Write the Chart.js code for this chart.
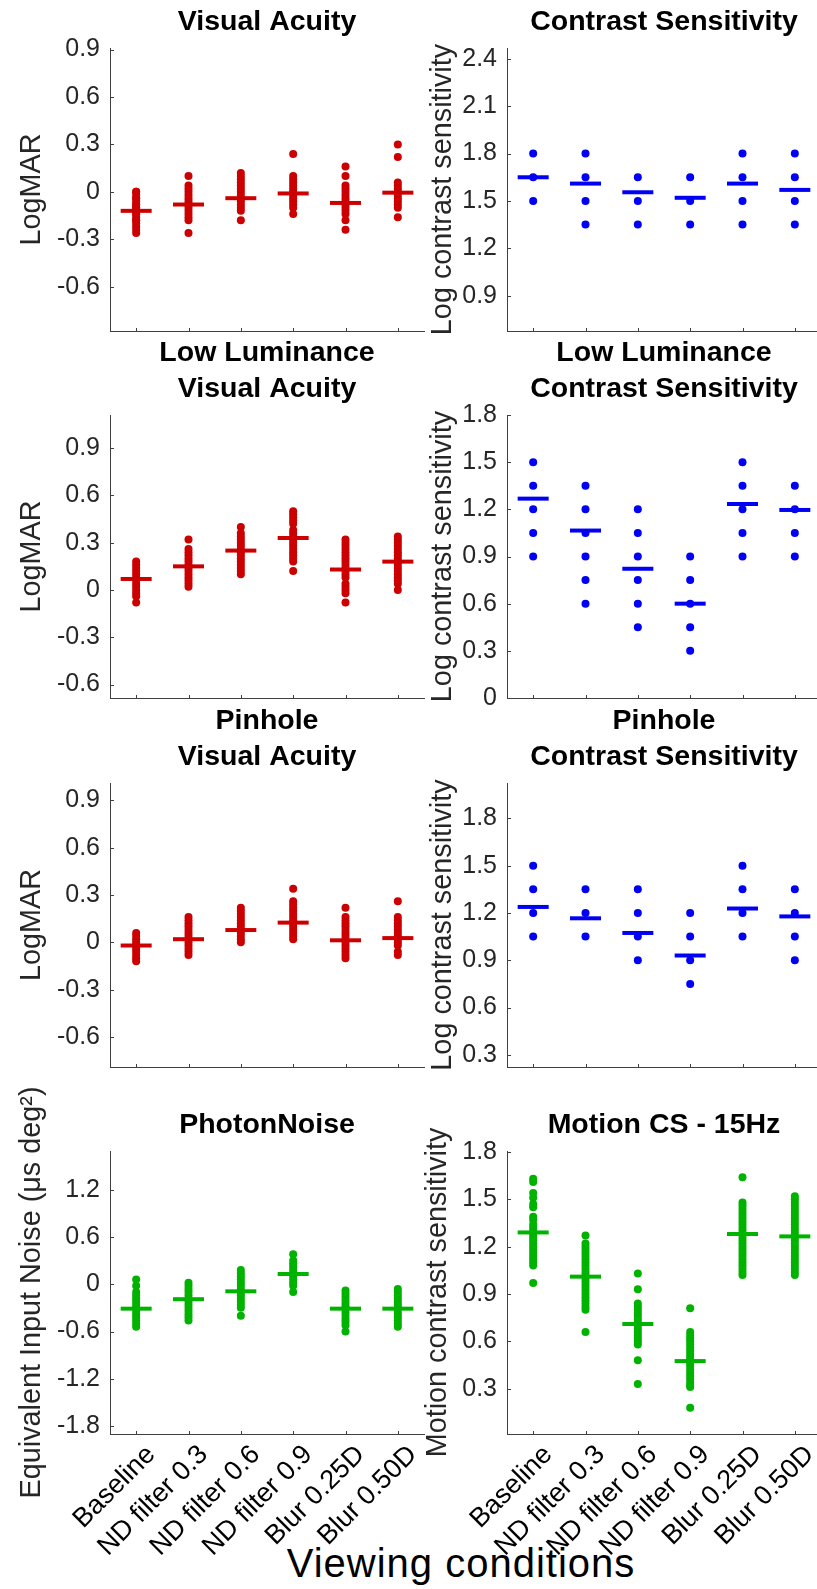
<!DOCTYPE html>
<html>
<head>
<meta charset="utf-8">
<script src="https://cdn.jsdelivr.net/npm/chart.js@4/dist/chart.umd.min.js"></script>
<style>
  html, body { margin: 0; padding: 0; background: #fff; }
  body { width: 817px; height: 1589px; position: relative; overflow: hidden; }
  canvas { position: absolute; }
  #xTitle {
    position: absolute; left: 0; width: 922px; top: 1543px;
    text-align: center; white-space: nowrap; color: #000;
    font: 40px 'Liberation Sans', Arial, sans-serif; line-height: 40px; letter-spacing: 1px;
  }
</style>
</head>
<body>
<div id="xTitle">Viewing conditions</div>
<script>
// viewing conditions on the x axis (positions 1..6)
const conditions = ['Baseline', 'ND filter 0.3', 'ND filter 0.6', 'ND filter 0.9', 'Blur 0.25D', 'Blur 0.50D'];
const xPositions = [1, 2, 3, 4, 5, 6];

// tick labels
const logmarTicks = [-0.6, -0.3, 0, 0.3, 0.6, 0.9];
const csTicks = [0.9, 1.2, 1.5, 1.8, 2.1, 2.4];
const llCsTicks = [0, 0.3, 0.6, 0.9, 1.2, 1.5, 1.8];
const phCsTicks = [0.3, 0.6, 0.9, 1.2, 1.5, 1.8];
const noiseTicks = [-1.8, -1.2, -0.6, 0, 0.6, 1.2];
const motionTicks = [0.3, 0.6, 0.9, 1.2, 1.5, 1.8];

// Visual Acuity (LogMAR), one list per condition
const vaPoints = [
  [0, 0, -0.02, -0.04, -0.04, -0.06, -0.08, -0.08, -0.1, -0.1, -0.12, -0.12, -0.14, -0.14, -0.16, -0.18, -0.18, -0.2, -0.22, -0.24, -0.26],
  [0.1, 0.04, 0.02, 0, -0.02, -0.04, -0.06, -0.08, -0.08, -0.1, -0.12, -0.14, -0.16, -0.18, -0.26],
  [0.12, 0.1, 0.08, 0.06, 0.04, 0.02, 0, -0.02, -0.04, -0.06, -0.08, -0.1, -0.12, -0.18],
  [0.24, 0.1, 0.08, 0.06, 0.04, 0.02, 0, -0.02, -0.04, -0.06, -0.08, -0.1, -0.14],
  [0.16, 0.1, 0.04, 0.02, 0, -0.02, -0.04, -0.06, -0.08, -0.1, -0.12, -0.14, -0.18, -0.24],
  [0.3, 0.22, 0.06, 0.04, 0.02, 0, -0.02, -0.04, -0.06, -0.08, -0.1, -0.16]
];
const vaMeans = [-0.12, -0.08, -0.04, -0.01, -0.07, -0.005];

// Contrast Sensitivity
const csPoints = [
  [1.8, 1.65, 1.5],
  [1.8, 1.65, 1.5, 1.35],
  [1.65, 1.5, 1.35],
  [1.65, 1.5, 1.35],
  [1.8, 1.65, 1.5, 1.35],
  [1.8, 1.65, 1.5, 1.35]
];
const csMeans = [1.65, 1.61, 1.555, 1.52, 1.61, 1.57];

// Low Luminance Visual Acuity
const llVaPoints = [
  [0.18, 0.16, 0.14, 0.12, 0.1, 0.08, 0.06, 0.04, 0.02, 0, -0.02, -0.04, -0.08],
  [0.32, 0.26, 0.24, 0.22, 0.2, 0.18, 0.16, 0.14, 0.12, 0.1, 0.08, 0.06, 0.04, 0.02],
  [0.4, 0.36, 0.34, 0.32, 0.3, 0.28, 0.26, 0.24, 0.22, 0.2, 0.18, 0.16, 0.14, 0.12, 0.1],
  [0.5, 0.48, 0.46, 0.44, 0.42, 0.38, 0.36, 0.34, 0.32, 0.3, 0.28, 0.26, 0.24, 0.22, 0.2, 0.18, 0.12],
  [0.32, 0.3, 0.28, 0.26, 0.24, 0.22, 0.2, 0.18, 0.16, 0.14, 0.12, 0.1, 0.08, 0.04, 0.02, 0, -0.02, -0.08],
  [0.34, 0.32, 0.3, 0.28, 0.26, 0.24, 0.22, 0.2, 0.18, 0.16, 0.14, 0.12, 0.1, 0.08, 0.06, 0.04, 0]
];
const llVaMeans = [0.07, 0.15, 0.25, 0.33, 0.13, 0.18];

// Low Luminance Contrast Sensitivity
const llCsPoints = [
  [1.5, 1.35, 1.2, 1.05, 0.9],
  [1.35, 1.2, 1.05, 0.9, 0.75, 0.6],
  [1.2, 1.05, 0.9, 0.75, 0.6, 0.45],
  [0.9, 0.75, 0.6, 0.45, 0.3],
  [1.5, 1.35, 1.2, 1.05, 0.9],
  [1.35, 1.2, 1.05, 0.9]
];
const llCsMeans = [1.268, 1.065, 0.822, 0.6, 1.234, 1.196];

// Pinhole Visual Acuity
const phVaPoints = [
  [0.06, 0.04, 0.02, 0, -0.02, -0.04, -0.06, -0.08, -0.1, -0.12],
  [0.16, 0.14, 0.12, 0.1, 0.08, 0.06, 0.04, 0.02, 0, -0.02, -0.04, -0.06, -0.08],
  [0.22, 0.2, 0.18, 0.16, 0.14, 0.12, 0.1, 0.08, 0.06, 0.04, 0.02, 0],
  [0.34, 0.26, 0.24, 0.22, 0.2, 0.18, 0.16, 0.14, 0.12, 0.1, 0.08, 0.06, 0.04, 0.02],
  [0.22, 0.16, 0.14, 0.12, 0.1, 0.08, 0.06, 0.04, 0.02, 0, -0.02, -0.04, -0.06, -0.08, -0.1],
  [0.26, 0.16, 0.14, 0.12, 0.1, 0.08, 0.06, 0.04, 0.02, 0, -0.02, -0.06, -0.08]
];
const phVaMeans = [-0.02, 0.02, 0.078, 0.125, 0.013, 0.027];

// Pinhole Contrast Sensitivity
const phCsPoints = [
  [1.5, 1.35, 1.2, 1.05],
  [1.35, 1.2, 1.05],
  [1.35, 1.2, 1.05, 0.9],
  [1.2, 1.05, 0.9, 0.75],
  [1.5, 1.35, 1.2, 1.05],
  [1.35, 1.2, 1.05, 0.9]
];
const phCsMeans = [1.238, 1.166, 1.073, 0.93, 1.228, 1.178];

// Photon noise (equivalent input noise)
const noisePoints = [
  [0.06, -0.02, -0.1, -0.14, -0.18, -0.22, -0.26, -0.3, -0.34, -0.38, -0.42, -0.46, -0.5, -0.54],
  [0.02, -0.02, -0.06, -0.1, -0.14, -0.18, -0.22, -0.26, -0.3, -0.34, -0.38, -0.42, -0.46],
  [0.18, 0.14, 0.1, 0.06, 0.02, -0.02, -0.06, -0.1, -0.14, -0.18, -0.22, -0.26, -0.3, -0.4],
  [0.38, 0.3, 0.26, 0.22, 0.18, 0.14, 0.1, 0.06, 0.02, -0.02, -0.1],
  [-0.08, -0.12, -0.16, -0.2, -0.24, -0.28, -0.32, -0.36, -0.4, -0.44, -0.48, -0.52, -0.6],
  [-0.06, -0.1, -0.14, -0.18, -0.22, -0.26, -0.3, -0.34, -0.38, -0.42, -0.46, -0.5, -0.54]
];
const noiseMeans = [-0.31, -0.19, -0.09, 0.13, -0.31, -0.31];

// Motion contrast sensitivity, 15 Hz
const motionPoints = [
  [1.63, 1.61, 1.54, 1.51, 1.47, 1.45, 1.39, 1.37, 1.34, 1.32, 1.3, 1.28, 1.26, 1.24, 1.22, 1.2, 1.18, 1.16, 1.14, 1.12, 1.1, 1.08, 0.97],
  [1.27, 1.22, 1.2, 1.18, 1.16, 1.14, 1.12, 1.1, 1.08, 1.06, 1.04, 1.02, 1.0, 0.98, 0.96, 0.94, 0.92, 0.9, 0.88, 0.86, 0.84, 0.82, 0.8, 0.66],
  [1.03, 0.93, 0.84, 0.82, 0.8, 0.78, 0.76, 0.74, 0.72, 0.7, 0.68, 0.66, 0.64, 0.62, 0.6, 0.58, 0.48, 0.33],
  [0.81, 0.66, 0.64, 0.62, 0.6, 0.58, 0.56, 0.54, 0.52, 0.5, 0.48, 0.46, 0.44, 0.42, 0.4, 0.38, 0.36, 0.34, 0.32, 0.31, 0.18],
  [1.64, 1.48, 1.46, 1.44, 1.42, 1.4, 1.38, 1.36, 1.34, 1.32, 1.3, 1.28, 1.26, 1.24, 1.22, 1.2, 1.18, 1.16, 1.14, 1.12, 1.1, 1.08, 1.06, 1.04, 1.02],
  [1.52, 1.5, 1.48, 1.46, 1.44, 1.42, 1.4, 1.38, 1.36, 1.34, 1.32, 1.3, 1.28, 1.26, 1.24, 1.22, 1.2, 1.18, 1.16, 1.14, 1.12, 1.1, 1.08, 1.06, 1.04, 1.02]
];
const motionMeans = [1.29, 1.01, 0.71, 0.475, 1.28, 1.265];

// ---- styling / layout ----
const FONT = "'Liberation Sans', Arial, Helvetica, sans-serif";
const RED = '#cc0000', BLUE = '#0000f5', GREEN = '#00b300';
const AXIS = '#404040', TEXT = '#262626';

const rowTop = [48, 415, 783, 1151];     // chart area top per row
const rowBottom = [331, 698, 1067, 1434]; // chart area bottom per row
const colLeft = [0, 416];
const colWidth = [432, 409];
const colPadRight = [8, 4];
const yAxisWidth = [110, 91];
const yTitlePad = [15, 10];

const panels = [
  {row: 0, col: 0, title: ['Visual Acuity'], yTitle: 'LogMAR', yMin: -0.88, yMax: 0.91, yTicks: logmarTicks, points: vaPoints, means: vaMeans, color: RED},
  {row: 0, col: 1, title: ['Contrast Sensitivity'], yTitle: 'Log contrast sensitivity', yMin: 0.676, yMax: 2.469, yTicks: csTicks, points: csPoints, means: csMeans, color: BLUE},
  {row: 1, col: 0, title: ['Low Luminance', 'Visual Acuity'], yTitle: 'LogMAR', yMin: -0.685, yMax: 1.11, yTicks: logmarTicks, points: llVaPoints, means: llVaMeans, color: RED},
  {row: 1, col: 1, title: ['Low Luminance', 'Contrast Sensitivity'], yTitle: 'Log contrast sensitivity', yMin: 0, yMax: 1.8, yTicks: llCsTicks, points: llCsPoints, means: llCsMeans, color: BLUE},
  {row: 2, col: 0, title: ['Pinhole', 'Visual Acuity'], yTitle: 'LogMAR', yMin: -0.79, yMax: 1.01, yTicks: logmarTicks, points: phVaPoints, means: phVaMeans, color: RED},
  {row: 2, col: 1, title: ['Pinhole', 'Contrast Sensitivity'], yTitle: 'Log contrast sensitivity', yMin: 0.223, yMax: 2.024, yTicks: phCsTicks, points: phCsPoints, means: phCsMeans, color: BLUE},
  {row: 3, col: 0, title: ['PhotonNoise'], yTitle: 'Equivalent Input Noise (\u03bcs deg\u00b2)', yMin: -1.9, yMax: 1.69, yTicks: noiseTicks, points: noisePoints, means: noiseMeans, color: GREEN, showX: true},
  {row: 3, col: 1, title: ['Motion CS - 15Hz'], yTitle: 'Motion contrast sensitivity', yMin: 0.013, yMax: 1.806, yTicks: motionTicks, points: motionPoints, means: motionMeans, color: GREEN, showX: true, titleShift: -5}
];

// MATLAB style ticks pointing into the plot area
const innerTicks = {
  id: 'innerTicks',
  afterDatasetsDraw(chart) {
    const {ctx, chartArea: a, scales: {x, y}} = chart;
    ctx.save();
    ctx.strokeStyle = AXIS;
    ctx.lineWidth = 1;
    ctx.beginPath();
    y.ticks.forEach(t => {
      const py = Math.round(y.getPixelForValue(t.value)) + 0.5;
      ctx.moveTo(a.left, py);
      ctx.lineTo(a.left + 4, py);
    });
    x.ticks.forEach(t => {
      const px = Math.round(x.getPixelForValue(t.value)) + 0.5;
      ctx.moveTo(px, a.bottom);
      ctx.lineTo(px, a.bottom - 3);
    });
    ctx.stroke();
    ctx.restore();
  }
};

function makePanel(p) {
  const extraTop = p.showX ? 80 : 0;
  const titleBox = p.title.length * 36 + 8;
  const top = rowTop[p.row] - titleBox - extraTop;
  const xHeight = p.showX ? 1589 - rowBottom[p.row] : 30;
  const height = rowBottom[p.row] + xHeight - top;
  const width = colWidth[p.col];

  const canvas = document.createElement('canvas');
  canvas.width = width;
  canvas.height = height;
  canvas.style.left = colLeft[p.col] + 'px';
  canvas.style.top = top + 'px';
  canvas.style.width = width + 'px';
  canvas.style.height = height + 'px';
  document.body.appendChild(canvas);

  const dots = [];
  p.points.forEach((vals, i) => vals.forEach(v => dots.push({x: xPositions[i], y: v})));
  const meanMarks = p.means.map((m, i) => ({x: xPositions[i], y: m}));

  new Chart(canvas, {
    type: 'scatter',
    data: {
      datasets: [
        {   // group mean, drawn on top
          data: meanMarks,
          pointStyle: 'line',
          pointRadius: 15.5,
          pointBorderWidth: 4,
          pointBorderColor: p.color,
          pointBackgroundColor: p.color
        },
        {
          data: dots,
          pointStyle: 'circle',
          pointRadius: 4,
          pointBorderWidth: 0,
          pointBackgroundColor: p.color
        }
      ]
    },
    options: {
      responsive: false,
      animation: false,
      events: [],
      layout: {
        autoPadding: false,
        padding: {top: extraTop, left: 0, right: colPadRight[p.col], bottom: 0}
      },
      plugins: {
        legend: {display: false},
        tooltip: {enabled: false},
        title: {
          display: true,
          fullSize: false,   // centre over the plot area, not the canvas
          text: p.title,
          color: '#000',
          font: {family: FONT, size: 28.5, weight: 'bold', lineHeight: '36px'},
          padding: {top: 0, bottom: 8}
        }
      },
      scales: {
        x: {
          type: 'linear',
          min: 0.5,
          max: 6.5,
          afterBuildTicks: s => { s.ticks = xPositions.map(v => ({value: v})); },
          afterFit: s => { s.height = xHeight; },
          grid: {display: false, drawTicks: false},
          border: {display: true, color: AXIS, width: 1},
          ticks: {
            display: !!p.showX,
            autoSkip: false,
            minRotation: 45,
            maxRotation: 45,
            padding: 5,
            labelOffset: 15,
            color: '#000',
            font: {family: FONT, size: 27},
            callback: v => conditions[v - 1]
          }
        },
        y: {
          type: 'linear',
          min: p.yMin,
          max: p.yMax,
          afterBuildTicks: s => { s.ticks = p.yTicks.map(v => ({value: v})); },
          afterFit: s => { s.width = yAxisWidth[p.col]; },
          grid: {display: false, drawTicks: false},
          border: {display: true, color: AXIS, width: 1},
          ticks: {
            padding: 10,
            color: TEXT,
            font: {family: FONT, size: 25},
            callback: v => String(Math.round(v * 10) / 10)
          },
          title: {
            display: true,
            text: p.yTitle,
            color: TEXT,
            font: {family: FONT, size: 28.8},
            padding: {top: yTitlePad[p.col] + (p.titleShift || 0), bottom: 0}
          }
        }
      }
    },
    plugins: [innerTicks]
  });
}

panels.forEach(makePanel);
</script>
</body>
</html>
